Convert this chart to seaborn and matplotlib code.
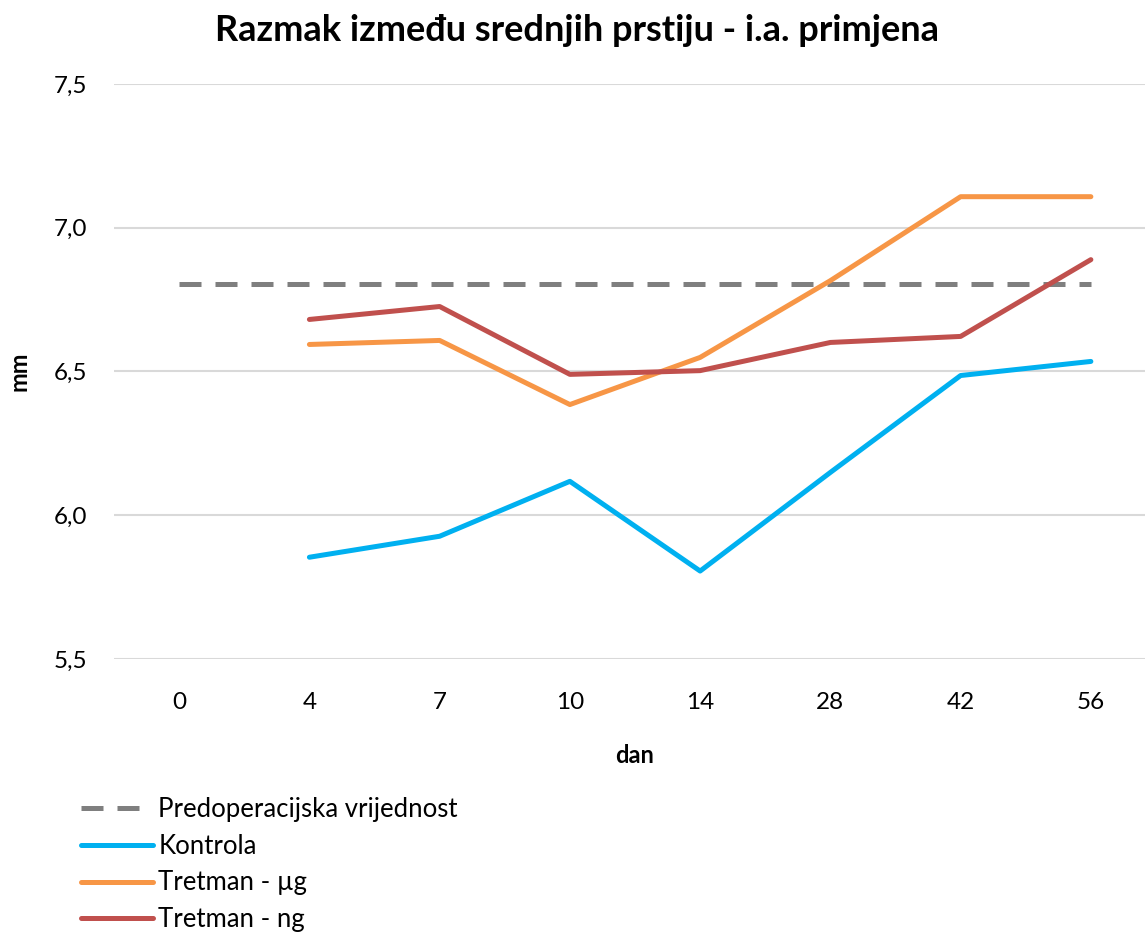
import matplotlib
matplotlib.use('Agg')
import matplotlib.pyplot as plt
from matplotlib.ticker import FuncFormatter
import seaborn as sns
import numpy as np
import pandas as pd

sns.set_theme(style='white')
plt.rcParams['font.family'] = ['Lato', 'DejaVu Sans']
plt.rcParams['text.color'] = 'black'
plt.rcParams['axes.labelcolor'] = 'black'

# data
days = ['0', '4', '7', '10', '14', '28', '42', '56']
preop = [6.806] * 8
kontrola = [np.nan, 5.854, 5.927, 6.118, 5.806, 6.149, 6.486, 6.535]
tretman_ug = [np.nan, 6.594, 6.608, 6.385, 6.549, 6.816, 7.108, 7.108]
tretman_ng = [np.nan, 6.681, 6.726, 6.490, 6.503, 6.601, 6.622, 6.889]

series = [
    ('Predoperacijska vrijednost', preop, '#7F7F7F'),
    ('Kontrola', kontrola, '#00B0F0'),
    ('Tretman - µg', tretman_ug, '#F79646'),
    ('Tretman - ng', tretman_ng, '#C0504D'),
]

fig = plt.figure(figsize=(11.45, 9.32), dpi=100)
ax = fig.add_axes([0.0996, 0.2929, 0.91, 0.617])

for name, vals, col in series:
    df = pd.DataFrame({'dan': days, 'mm': vals})
    sns.lineplot(data=df, x='dan', y='mm', ax=ax, color=col, linewidth=3.6,
                 label=name, sort=False)
    ln = ax.get_lines()[-1]
    ln.set_solid_capstyle('round')
    if name.startswith('Predop'):
        ln.set_dashes((4.4, 2.8))

ax.set_ylim(5.5, 7.5)
ax.set_xlim(-0.5, 7.5)
ax.set_yticks([5.5, 6.0, 6.5, 7.0, 7.5])
ax.yaxis.set_major_formatter(FuncFormatter(lambda v, p: f'{v:.1f}'.replace('.', ',')))
ax.grid(axis='y', color='#D9D9D9', linewidth=1.5)
ax.grid(axis='x', visible=False)
ax.set_axisbelow(True)
for s in ax.spines.values():
    s.set_visible(False)
ax.tick_params(axis='both', length=0, labelsize=17.5, colors='black')
ax.tick_params(axis='y', pad=19)
ax.tick_params(axis='x', pad=24)

ax.set_xlabel('dan', fontsize=17, fontweight='bold', labelpad=22)
ax.set_ylabel('mm', fontsize=17, fontweight='bold', labelpad=17)
fig.text(0.504, 0.967, 'Razmak između srednjih prstiju - i.a. primjena', ha='center', va='center',
         fontsize=26, fontweight='bold', color='black')

ax.legend(loc='upper left', bbox_to_anchor=(0.071, 0.145), bbox_transform=fig.transFigure,
          frameon=False, fontsize=18.5, handlelength=2.8, handletextpad=0.2, labelspacing=0.46,
          borderaxespad=0, borderpad=0)

fig.savefig('out.png', dpi=100)
